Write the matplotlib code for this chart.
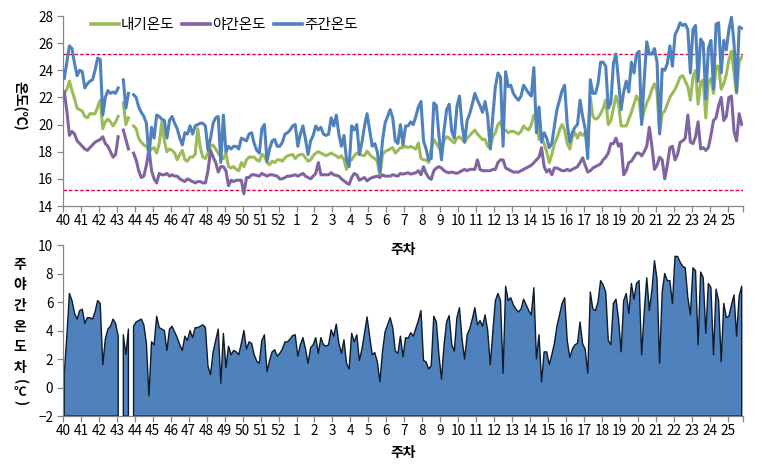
import numpy as np
import matplotlib
matplotlib.use('Agg')
import matplotlib.pyplot as plt
from matplotlib.lines import Line2D

plt.rcParams['font.family'] = ['Noto Sans CJK KR', 'DejaVu Sans']

nan = np.nan

week_labels = [str(w) for w in range(40, 53)] + [str(w) for w in range(1, 26)]
series_names = ['내기온도', '야간온도', '주간온도']
series_colors = ['#9BBB59', '#8064A2', '#4F81BD']
upper_limit = 25.2
lower_limit = 15.2

# 주간온도 (daytime temperature)
day_temp = [
    23.4, 24.6, 25.8, 25.6, 24.5, 23.6, 24.0,
    23.9, 22.7, 23.0, 23.2, 23.3, 24.0, 24.9,
    24.8, 20.7, 22.0, 22.5, 22.3, 22.4, 22.3,
    22.7, nan, 23.3, 21.2, 22.3, nan, 22.2,
    22.0, 21.3, 20.9, 20.6, 20.1, 17.6, 19.8,
    19.0, 20.7, 20.6, 20.4, 20.3, 19.0, 20.3,
    20.6, 20.1, 19.7, 19.0, 18.5, 19.4, 19.3,
    19.9, 19.3, 19.9, 20.0, 20.1, 20.1, 19.9,
    18.1, 19.0, 20.1, 20.5, 20.6, 17.2, 20.7,
    18.0, 18.4, 18.2, 18.4, 18.4, 18.2, 19.0,
    18.9, 18.8, 19.3, 19.4, 18.6, 18.1, 17.9,
    19.7, 20.0, 17.3, 18.2, 18.8, 18.9, 18.4,
    18.4, 18.7, 19.3, 19.4, 19.6, 19.9, 20.0,
    18.4, 19.3, 19.9, 18.9, 17.8, 18.8, 19.2,
    19.9, 19.6, 19.8, 19.3, 19.2, 19.3, 20.5,
    19.9, 20.7, 19.3, 18.4, 19.2, 17.4, 16.9,
    19.9, 19.6, 20.0, 17.8, 18.7, 19.9, 20.8,
    19.6, 18.4, 18.6, 18.0, 16.5, 18.8, 20.1,
    20.6, 21.1, 20.5, 18.8, 18.6, 20.0, 18.5,
    19.9, 19.9, 20.2, 20.0, 20.6, 21.3, 21.7,
    18.8, 18.2, 17.4, 17.5, 21.6, 21.4, 19.2,
    17.4, 19.6, 21.1, 21.5, 19.5, 19.0, 21.3,
    22.1, 20.0, 18.7, 20.3, 20.8, 21.5, 22.3,
    21.8, 21.4, 20.9, 21.7, 20.6, 18.2, 20.6,
    22.8, 23.8, 23.5, 18.4, 23.9, 22.8, 22.9,
    22.3, 22.0, 21.8, 22.1, 22.9, 22.6, 22.3,
    22.1, 24.2, 19.4, 21.3, 18.7, 19.4, 19.0,
    18.3, 18.6, 19.9, 21.1, 21.8, 22.5, 22.9,
    20.0, 18.7, 19.4, 19.8, 20.0, 21.8, 20.6,
    19.7, 17.5, 23.3, 22.3, 22.3, 23.0, 24.6,
    24.6, 24.3, 21.2, 21.6, 24.5, 25.2, 23.2,
    21.1, 22.4, 23.2, 22.4, 24.6, 23.8, 25.2,
    25.4, 20.0, 23.3, 26.1, 25.2, 25.2, 25.6,
    24.6, 19.3, 24.1, 24.0, 24.5, 25.8, 24.3,
    26.6, 27.0, 27.5, 27.3, 27.4, 27.0, 23.8,
    27.0, 27.3, 23.2, 26.3, 26.0, 21.9, 25.6,
    26.2, 22.6, 27.4, 27.5, 23.8, 26.2, 25.5,
    27.0, 27.9, 26.0, 22.4, 27.2, 27.1,
]

# 야간온도 (night temperature)
night_temp = [
    22.4, 21.0, 19.2, 19.5, 19.3, 18.8, 18.6,
    18.4, 18.2, 18.1, 18.3, 18.5, 18.7, 18.8,
    18.9, 19.1, 18.6, 18.4, 18.0, 17.6, 17.8,
    19.1, nan, 19.6, 18.9, 18.2, nan, 17.9,
    17.4, 16.6, 16.1, 16.2, 17.0, 18.2, 16.6,
    16.0, 15.7, 16.4, 16.3, 16.3, 16.4, 16.2,
    16.3, 16.2, 16.2, 16.0, 15.9, 15.8, 16.0,
    15.9, 15.8, 15.7, 15.8, 15.8, 15.7, 15.7,
    16.6, 18.1, 17.6, 17.2, 16.5, 16.9, 16.9,
    16.6, 15.5, 15.9, 15.8, 15.9, 15.9, 15.9,
    14.9, 16.1, 16.1, 16.3, 16.3, 16.25, 16.2,
    16.4, 16.3, 16.2, 16.3, 16.3, 16.25, 16.2,
    16.0, 16.0, 16.1, 16.2, 16.2, 16.25, 16.3,
    16.2, 16.3, 16.4, 16.2, 16.1, 16.0, 16.2,
    16.4, 17.2, 16.3, 16.3, 16.3, 16.3, 16.45,
    16.3, 16.25, 16.2, 16.0, 15.85, 15.7, 15.6,
    16.1, 16.4, 16.3, 15.9, 16.0, 16.1, 15.85,
    16.0, 16.1, 16.15, 16.2, 16.1, 16.3, 16.2,
    16.2, 16.2, 16.3, 16.25, 16.2, 16.4, 16.35,
    16.4, 16.45, 16.35, 16.4, 16.45, 16.6, 16.3,
    16.9, 16.4, 16.1, 15.96, 16.6, 16.8, 16.9,
    16.8, 16.6, 16.5, 16.45, 16.5, 16.45, 16.4,
    16.5, 16.6, 16.7, 16.6, 16.7, 16.7, 16.7,
    17.4, 16.7, 16.6, 16.6, 16.6, 16.6, 16.7,
    16.7, 17.2, 17.4, 17.4, 16.8, 16.7, 16.6,
    16.5, 16.5, 16.5, 16.6, 16.7, 16.8, 16.9,
    17.0, 17.2, 17.4, 17.6, 18.3, 16.9, 16.5,
    16.7, 16.3, 16.8, 16.8, 16.7, 16.6, 16.6,
    16.7, 16.6, 16.7, 16.8, 16.9, 17.2, 17.55,
    17.0, 16.5, 16.6, 16.8, 16.9, 17.0, 17.1,
    17.4, 17.6, 17.9, 18.6, 18.6, 19.0, 18.4,
    18.6, 16.3, 16.6, 17.2, 17.3, 17.6, 17.9,
    17.9, 17.7, 18.0, 18.4, 19.8, 18.4, 16.7,
    17.0, 17.6, 17.4, 16.0, 17.0, 18.3, 18.4,
    17.4, 17.8, 18.7, 18.8, 19.0, 20.7, 18.7,
    18.6, 19.1, 20.2, 18.2, 18.3, 18.1, 18.3,
    19.2, 20.3, 20.5, 21.4, 22.0, 20.3, 20.6,
    22.0, 22.1, 19.5, 18.8, 20.8, 20.0,
]

# 내기온도 (inside air temperature)
air_temp = [
    22.3, 22.6, 23.2, 22.5, 21.9, 21.2, 21.1,
    21.0, 20.6, 20.5, 20.8, 20.8, 20.8, 21.3,
    21.8, 19.7, 20.2, 20.4, 20.2, 19.9, 20.2,
    20.6, nan, 21.6, 20.0, 20.5, nan, 19.9,
    19.7, 19.0, 18.7, 18.5, 18.4, 18.0, 18.2,
    18.3, 17.9, 18.6, 20.2, 18.8, 18.0, 18.2,
    18.1, 17.9, 17.4, 17.8, 18.1, 17.4, 17.3,
    17.6, 17.6, 17.8, 19.7, 18.3, 17.6, 17.5,
    17.9, 18.4, 18.5, 18.2, 17.9, 17.6, 17.5,
    17.9, 16.9, 16.8, 16.9, 16.7, 16.6, 17.2,
    16.9, 17.4, 17.6, 17.6, 17.6, 17.4, 17.3,
    17.8, 17.7, 17.2, 17.05, 17.3, 17.2, 17.4,
    17.4, 17.3, 17.55, 17.7, 17.75, 17.8, 17.5,
    17.7, 17.8, 17.8, 17.55, 17.3, 17.4, 17.7,
    17.9, 18.0, 17.9, 17.8, 17.7, 17.8, 17.9,
    17.8, 17.7, 17.55, 17.7, 17.4, 16.7, 17.3,
    17.4, 17.7, 17.9, 17.8, 17.75, 17.7, 18.05,
    17.8, 17.6, 17.5, 17.3, 16.2, 17.8, 18.0,
    18.1, 18.2, 18.3, 17.9, 18.1, 18.3, 18.3,
    18.4, 18.3, 18.4, 18.3, 18.2, 18.65, 17.5,
    17.4, 17.4, 17.2, 18.2, 18.9, 18.6, 18.3,
    17.9, 18.8, 19.1, 19.0, 18.8, 18.65, 19.0,
    19.1, 18.9, 18.7, 19.0, 19.2, 19.4, 19.6,
    19.3, 19.1, 18.9, 18.9, 18.4, 18.3, 19.1,
    19.4, 20.0, 20.2, 19.5, 19.6, 19.4, 19.5,
    19.5, 19.4, 19.3, 19.5, 19.9, 19.7, 19.6,
    20.0, 20.7, 20.3, 18.9, 19.0, 18.6, 18.0,
    17.2, 17.8, 18.6, 19.0, 19.6, 20.0, 19.6,
    18.6, 18.2, 19.1, 19.4, 19.0, 19.4, 19.2,
    19.4, 18.4, 22.0, 20.6, 20.4, 20.5, 20.8,
    21.2, 21.8, 20.0, 20.3, 21.2, 22.1, 21.5,
    19.9, 19.9, 19.9, 20.4, 20.9, 21.5, 22.1,
    21.8, 20.2, 21.0, 21.6, 22.0, 22.6, 23.0,
    22.4, 19.4, 20.8, 21.0, 21.5, 22.0, 22.3,
    22.6, 23.0, 23.5, 23.6, 23.2, 22.8, 21.8,
    23.5, 24.0, 21.5, 23.1, 23.3, 20.5, 23.1,
    23.4, 22.3, 24.3, 24.3, 22.6, 23.0, 23.7,
    24.8, 25.4, 23.8, 22.3, 24.6, 25.0,
]

day = np.array(day_temp, dtype=float)
night = np.array(night_temp, dtype=float)
air = np.array(air_temp, dtype=float)
diff = day - night
x = np.arange(len(day))
n = len(day)

W, H = 767, 469
fig = plt.figure(figsize=(W / 100, H / 100), dpi=100)
ax1 = fig.add_axes([63 / W, 1 - 206 / H, 680 / W, 190 / H])
ax2 = fig.add_axes([63 / W, 1 - 416 / H, 680 / W, 171 / H])
ax2.patch.set_alpha(0)

grey = '#868686'
tick_pos = [7 * k - 0.5 for k in range(len(week_labels))]
label_fs = 9.8
title_fs = 10

def style(ax):
    for s in ['top', 'right']:
        ax.spines[s].set_visible(False)
    for s in ['left', 'bottom']:
        ax.spines[s].set_color(grey)
        ax.spines[s].set_linewidth(0.9)
    ax.tick_params(axis='both', direction='out', length=4, color=grey,
                   labelsize=label_fs, width=0.9)
    ax.tick_params(axis='x', pad=2)
    ax.tick_params(axis='y', pad=3)
    ax.set_xlim(-0.5, n - 0.5)
    ax.set_xticks(tick_pos)
    ax.set_xticklabels(week_labels)
    ax.set_xticks([n - 0.5], minor=True)
    ax.tick_params(axis='x', which='minor', direction='out', length=4,
                   color=grey, width=0.9)

# ---- top chart ----
style(ax1)
ax1.set_ylim(14, 28)
ax1.set_yticks(np.arange(14, 29, 2))
ax1.axhline(upper_limit, color='#E8003C', lw=1.0, ls=(0, (2.5, 1.5)), zorder=1)
ax1.axhline(lower_limit, color='#E8003C', lw=1.0, ls=(0, (2.5, 1.5)), zorder=1)
vals = [air, night, day]
handles = []
for v, c, name in zip(vals, series_colors, series_names):
    ax1.plot(x, v, color=c, lw=2.2, solid_joinstyle='round', zorder=3)
    handles.append(Line2D([0], [0], color=c, lw=2.6))
ax1.legend(handles, series_names, loc='center', bbox_to_anchor=(0.237, 0.953),
           ncol=3, frameon=False, fontsize=10.5, handlelength=1.9,
           columnspacing=0.55, handletextpad=0.15, borderaxespad=0)

# ---- bottom chart ----
style(ax2)
ax2.set_ylim(-2, 10)
ax2.set_yticks(np.arange(-2, 11, 2))
ax2.fill_between(x, diff, -2, facecolor='#4F81BD', edgecolor='#0D1B2A',
                 linewidth=1.0, zorder=2)

# ---- axis titles ----
fig.text(403 / W, 1 - 250 / H, '주차', ha='center', va='center',
         fontsize=title_fs, fontweight='bold', zorder=10)
fig.text(403 / W, 1 - 453 / H, '주차', ha='center', va='center',
         fontsize=title_fs, fontweight='bold', zorder=10)
fig.text(20 / W, 1 - 106 / H, '온도(℃)', rotation=-90, ha='center', va='center',
         fontsize=title_fs, fontweight='bold')
for i, ch in enumerate(['주', '야', '간', '온', '도', '차']):
    fig.text(20 / W, 1 - (265 + 20.5 * i) / H, ch, ha='center', va='center',
             fontsize=title_fs, fontweight='bold')
fig.text(20 / W, 1 - 382 / H, '(', rotation=-90, ha='center', va='center',
         fontsize=title_fs, fontweight='bold')
fig.text(20 / W, 1 - 392 / H, '℃', ha='center', va='center',
         fontsize=title_fs - 1, fontweight='bold')
fig.text(20 / W, 1 - 403 / H, ')', rotation=-90, ha='center', va='center',
         fontsize=title_fs, fontweight='bold')

fig.savefig('out.png', dpi=100)
